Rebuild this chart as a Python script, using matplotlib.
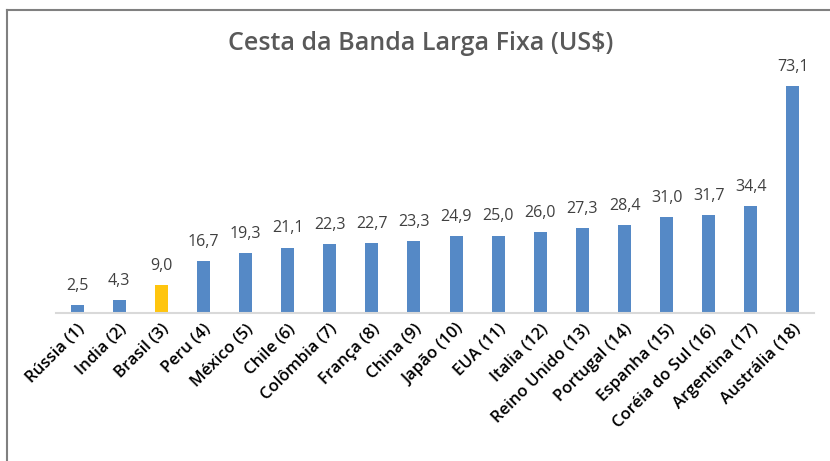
import matplotlib
matplotlib.use("Agg")
import matplotlib.pyplot as plt
from matplotlib.lines import Line2D

paises = ["Rússia (1)", "India (2)", "Brasil (3)", "Peru (4)", "México (5)", "Chile (6)",
          "Colômbia (7)", "França (8)", "China (9)", "Japão (10)", "EUA (11)", "Italia (12)",
          "Reino Unido (13)", "Portugal (14)", "Espanha (15)", "Coréia do Sul (16)",
          "Argentina (17)", "Austrália (18)"]
valores = [2.5, 4.3, 9.0, 16.7, 19.3, 21.1, 22.3, 22.7, 23.3, 24.9, 25.0, 26.0,
           27.3, 28.4, 31.0, 31.7, 34.4, 73.1]
destaque = "Brasil (3)"

cores = ["#FFC50E" if p == destaque else "#5589C6" for p in paises]

fig = plt.figure(figsize=(8.3, 4.61), dpi=100)
ax = fig.add_axes([56/830, 1 - 313/461, 758/830, 248/461])

x = range(len(paises))
barras = ax.bar(x, valores, width=0.31, color=cores, zorder=2)
ax.set_xlim(-0.5, len(paises) - 0.5)
ax.set_ylim(0, 80)

for xi, v in zip(x, valores):
    ax.annotate(("%.1f" % v).replace(".", ","), xy=(xi, v), xytext=(0, 8),
                textcoords="offset points", ha="center", va="bottom",
                fontsize=11.5, color="#404040", family="Open Sans")

ax.set_xticks(list(x))
ax.set_xticklabels(paises, rotation=45, ha="right", rotation_mode="anchor",
                   fontsize=12, fontweight="semibold", family="Open Sans", color="black")
ax.tick_params(axis="x", length=0, pad=6)
ax.set_yticks([])
for s in ["top", "right", "left"]:
    ax.spines[s].set_visible(False)
ax.spines["bottom"].set_color("#D9D9D9")
ax.spines["bottom"].set_linewidth(1.5)

fig.text(421/830, 1 - 43/461, "Cesta da Banda Larga Fixa (US$)", ha="center", va="center",
         fontsize=18, fontweight="semibold", color="#595959", family="Open Sans")

# moldura
fig.add_artist(Line2D([6.5/830, 6.5/830], [0, 1 - 10/461], transform=fig.transFigure,
                      color="#808080", linewidth=1.5))
fig.add_artist(Line2D([6.5/830, 1], [1 - 10/461, 1 - 10/461], transform=fig.transFigure,
                      color="#808080", linewidth=1.5))

plt.savefig("out.png", dpi=100)
